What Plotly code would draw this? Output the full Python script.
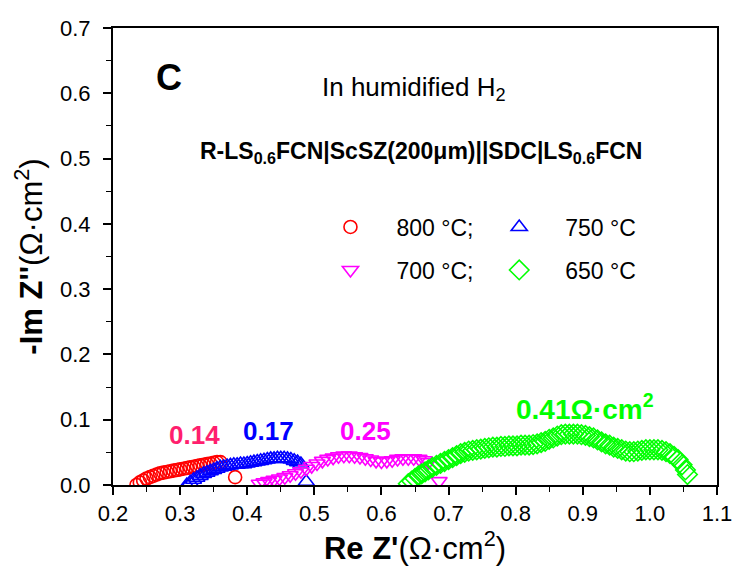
import plotly.graph_objects as go

# ---- data ----
x800 = [0.235, 0.240, 0.245, 0.250, 0.255, 0.260, 0.265, 0.270, 0.275, 0.280, 0.285, 0.290, 0.295,
        0.300, 0.305, 0.310, 0.315, 0.320, 0.325, 0.330, 0.335, 0.340, 0.345, 0.350, 0.355, 0.360, 0.382]
y800 = [0.000, 0.004, 0.007, 0.010, 0.012, 0.014, 0.016, 0.018, 0.019, 0.020, 0.021, 0.022, 0.023,
        0.024, 0.025, 0.026, 0.027, 0.028, 0.029, 0.030, 0.031, 0.032, 0.033, 0.034, 0.035, 0.035, 0.012]

x750 = [0.310, 0.315, 0.320, 0.325, 0.330, 0.335, 0.340, 0.345, 0.350, 0.355, 0.360, 0.365, 0.370,
        0.375, 0.380, 0.385, 0.390, 0.395, 0.400, 0.405, 0.410, 0.415, 0.420, 0.425, 0.430, 0.435,
        0.440, 0.445, 0.450, 0.455, 0.460, 0.465, 0.470, 0.475, 0.480, 0.488]
y750 = [0.000, 0.004, 0.008, 0.011, 0.014, 0.017, 0.019, 0.021, 0.023, 0.025, 0.027, 0.028, 0.029,
        0.030, 0.031, 0.031, 0.032, 0.032, 0.033, 0.034, 0.035, 0.036, 0.037, 0.038, 0.039, 0.040,
        0.040, 0.041, 0.041, 0.041, 0.040, 0.039, 0.037, 0.035, 0.032, 0.005]

x700 = [0.418, 0.425, 0.432, 0.440, 0.448, 0.456, 0.464, 0.472, 0.480, 0.488, 0.496, 0.504, 0.512,
        0.520, 0.528, 0.536, 0.544, 0.552, 0.560, 0.568, 0.576, 0.584, 0.592, 0.600, 0.608, 0.616,
        0.624, 0.632, 0.640, 0.648, 0.656, 0.664, 0.670, 0.686]
y700 = [0.002, 0.004, 0.006, 0.008, 0.010, 0.012, 0.015, 0.018, 0.021, 0.025, 0.029, 0.033, 0.037,
        0.040, 0.042, 0.044, 0.045, 0.045, 0.044, 0.043, 0.041, 0.039, 0.037, 0.036, 0.037, 0.038,
        0.040, 0.041, 0.041, 0.041, 0.040, 0.038, 0.035, 0.006]

x650 = [0.640, 0.645, 0.650, 0.655, 0.660, 0.665, 0.670,
        0.676, 0.682, 0.688, 0.694, 0.700, 0.706, 0.712, 0.718, 0.724, 0.730,
        0.736, 0.742, 0.748, 0.754, 0.760, 0.766, 0.772, 0.778, 0.784, 0.790,
        0.796, 0.802, 0.808, 0.814, 0.820, 0.826, 0.832, 0.838, 0.844, 0.850,
        0.856, 0.862, 0.868, 0.874, 0.880, 0.886, 0.892, 0.898, 0.904, 0.910,
        0.916, 0.922, 0.928, 0.934, 0.940, 0.946, 0.952, 0.958, 0.964, 0.970,
        0.976, 0.982, 0.988, 0.994, 1.000, 1.006, 1.012, 1.018, 1.024, 1.030,
        1.036, 1.042, 1.048, 1.053, 1.056]
y650 = [0.002, 0.006, 0.010, 0.014, 0.017, 0.020, 0.023,
        0.027, 0.030, 0.033, 0.036, 0.039, 0.042, 0.045, 0.048, 0.050, 0.052,
        0.053, 0.054, 0.055, 0.056, 0.057, 0.058, 0.058, 0.059, 0.059, 0.060,
        0.060, 0.060, 0.061, 0.061, 0.061, 0.062, 0.063, 0.065, 0.067, 0.070,
        0.072, 0.075, 0.077, 0.078, 0.078, 0.078, 0.078, 0.077, 0.076, 0.074,
        0.072, 0.069, 0.066, 0.063, 0.061, 0.058, 0.056, 0.054, 0.052, 0.051,
        0.051, 0.052, 0.053, 0.054, 0.054, 0.054, 0.054, 0.053, 0.051, 0.048,
        0.044, 0.039, 0.031, 0.023, 0.016]

series_names = ["800 °C;", "750 °C", "700 °C;", "650 °C"]
resistance_labels = ["0.14", "0.17", "0.25", "0.41Ω·cm<sup>2</sup>"]
label_pos = [(0.321, 0.077), (0.431, 0.083), (0.576, 0.083), (0.904, 0.120)]
x_ticks = [0.2, 0.3, 0.4, 0.5, 0.6, 0.7, 0.8, 0.9, 1.0, 1.1]
y_ticks = [0.0, 0.1, 0.2, 0.3, 0.4, 0.5, 0.6, 0.7]

FONT = "Liberation Sans, Arial, sans-serif"

fig = go.Figure()
specs = [
    (x800, y800, series_names[0], "circle-open", "#FF0000", 13, "legend"),
    (x750, y750, series_names[1], "triangle-up-open", "#0000FF", 14, "legend2"),
    (x700, y700, series_names[2], "triangle-down-open", "#FF00FF", 14, "legend3"),
    (x650, y650, series_names[3], "diamond-open", "#00FF00", 15, "legend4"),
]
for xs, ys, name, sym, col, sz, lg in specs:
    fig.add_trace(go.Scatter(
        x=xs, y=ys, mode="markers", name=name, legend=lg,
        marker=dict(symbol=sym, size=sz, color=col, line=dict(color=col, width=1.6)),
    ))

label_colors = ["#FF1F6E", "#0000FF", "#FF00FF", "#00FF00"]
label_sizes = [26, 26, 26, 28]
for txt, (lx, ly), col, fs in zip(resistance_labels, label_pos, label_colors, label_sizes):
    fig.add_annotation(x=lx, y=ly, xref="x", yref="y", text="<b>" + txt + "</b>",
                       xanchor="center", yanchor="middle",
                       showarrow=False, font=dict(family=FONT, size=fs, color=col))

fig.add_annotation(x=(170 - 113) / 612, y=(485 - 77) / 457, xref="paper", yref="paper", text="<b>C</b>",
                   xanchor="center", yanchor="middle",
                   showarrow=False, font=dict(family=FONT, size=36, color="black"))
fig.add_annotation(x=(418 - 113) / 612, y=(485 - 88) / 457, xref="paper", yref="paper",
                   text="In humidified H<sub>2</sub>", xanchor="center", yanchor="middle",
                   showarrow=False, font=dict(family=FONT, size=26, color="black"))
fig.add_annotation(x=(425 - 113) / 612, y=(485 - 152) / 457, xref="paper", yref="paper",
                   text="<b>R-LS<sub>0.6</sub>FCN|ScSZ(200μm)||SDC|LS<sub>0.6</sub>FCN</b>",
                   xanchor="center", yanchor="middle",
                   showarrow=False, font=dict(family=FONT, size=23, color="black"))

legend_common = dict(xanchor="left", yanchor="middle", bgcolor="rgba(0,0,0,0)",
                     font=dict(family=FONT, size=23, color="black"), itemwidth=82)
col1 = (353 - 46 - 113) / 612
col2 = (524 - 46 - 113) / 612
row1 = (485 - 227) / 457
row2 = (485 - 270) / 457
fig.update_layout(
    legend=dict(x=col1, y=row1, **legend_common),
    legend2=dict(x=col2, y=row1, **legend_common),
    legend3=dict(x=col1, y=row2, **legend_common),
    legend4=dict(x=col2, y=row2, **legend_common),
)

axis_common = dict(showline=True, linewidth=2, linecolor="black", mirror=True,
                   ticks="outside", ticklen=8, tickwidth=1.5, tickcolor="black",
                   showgrid=False, zeroline=False,
                   tickfont=dict(family=FONT, size=22, color="black"))

fig.update_xaxes(range=[0.2, 1.1], tickvals=x_ticks, tickformat=".1f", ticklabelstandoff=0,
                 minor=dict(dtick=0.05, ticks="outside", ticklen=5, tickcolor="black", tickwidth=1.2),
                 title=dict(text="<b>Re Z'</b>(Ω·cm<sup>2</sup>)",
                            font=dict(family=FONT, size=31, color="black"), standoff=6),
                 **axis_common)
fig.update_yaxes(range=[0, 0.7], tickvals=y_ticks, tickformat=".1f", ticklabelstandoff=8,
                 minor=dict(dtick=0.05, ticks="outside", ticklen=5, tickcolor="black", tickwidth=1.2),
                 title=dict(text="<b>-Im Z''</b>(Ω·cm<sup>2</sup>)",
                            font=dict(family=FONT, size=31, color="black"), standoff=8),
                 **axis_common)

fig.update_layout(width=744, height=570, margin=dict(l=113, r=19, t=28, b=85),
                  plot_bgcolor="white", paper_bgcolor="white", showlegend=True)

fig.write_html("out.html")
